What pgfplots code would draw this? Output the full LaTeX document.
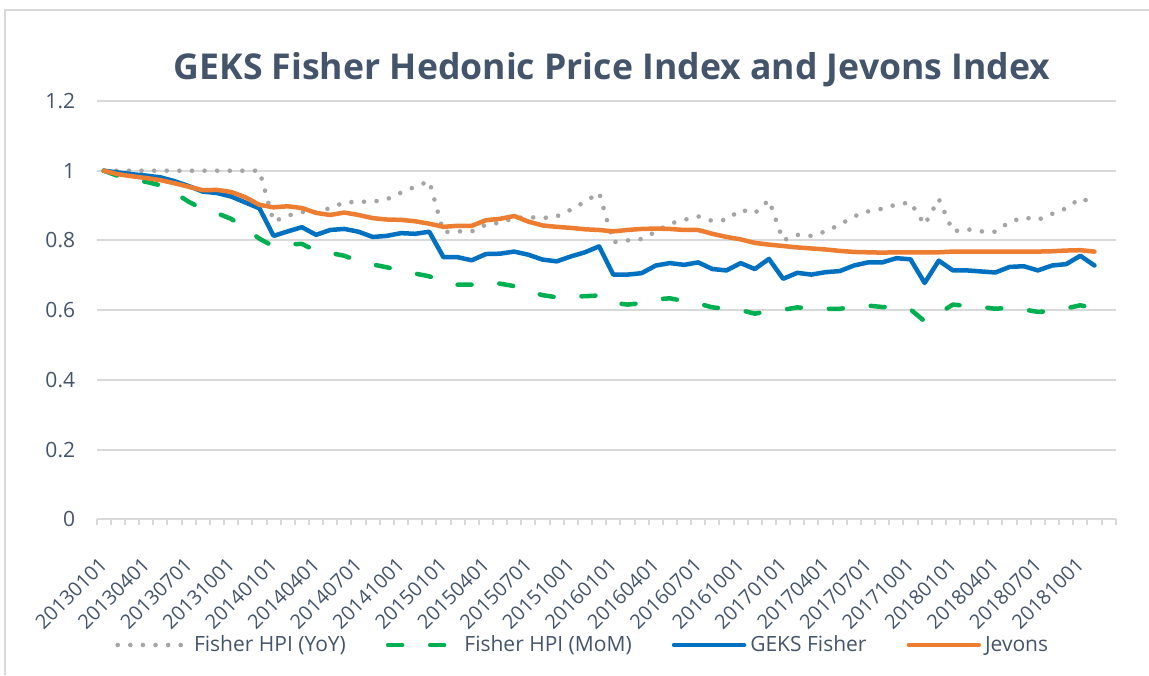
\documentclass[border=0pt]{standalone}
\usepackage{pgfplots}
\pgfplotsset{compat=1.18}
\usepackage{pgfplotstable}
\usepackage{fontspec}
\setmainfont{Open Sans}
\definecolor{txt}{HTML}{44546A}
\definecolor{gridc}{HTML}{D9D9D9}
\definecolor{yoyc}{HTML}{A5A5A5}
\definecolor{momc}{HTML}{00B050}
\definecolor{geksc}{HTML}{0070C0}
\definecolor{jevc}{HTML}{ED7D31}

\pgfplotstableread{
x yoy mom geks jev
0 1.000 1.000 1.000 1.000
1 1.000 0.985 0.995 0.990
2 1.000 0.975 0.990 0.984
3 1.000 0.968 0.986 0.979
4 1.000 0.958 0.981 0.973
5 1.000 0.937 0.970 0.964
6 1.000 0.911 0.956 0.954
7 1.000 0.890 0.940 0.944
8 1.000 0.878 0.936 0.945
9 1.000 0.862 0.926 0.939
10 1.000 0.835 0.909 0.924
11 1.000 0.805 0.892 0.902
12 0.854 0.783 0.813 0.895
13 0.871 0.789 0.826 0.898
14 0.882 0.790 0.838 0.893
15 0.880 0.770 0.816 0.879
16 0.893 0.764 0.830 0.873
17 0.909 0.756 0.833 0.880
18 0.911 0.740 0.825 0.873
19 0.911 0.731 0.810 0.864
20 0.918 0.723 0.813 0.860
21 0.937 0.713 0.821 0.859
22 0.954 0.705 0.819 0.855
23 0.970 0.697 0.825 0.848
24 0.824 0.682 0.752 0.839
25 0.826 0.673 0.752 0.842
26 0.826 0.673 0.743 0.842
27 0.845 0.680 0.761 0.858
28 0.851 0.676 0.762 0.862
29 0.864 0.669 0.768 0.870
30 0.867 0.655 0.759 0.854
31 0.864 0.643 0.745 0.843
32 0.869 0.637 0.740 0.839
33 0.888 0.639 0.754 0.836
34 0.911 0.640 0.766 0.832
35 0.937 0.642 0.783 0.830
36 0.795 0.621 0.702 0.826
37 0.800 0.616 0.702 0.830
38 0.804 0.620 0.706 0.833
39 0.825 0.631 0.728 0.834
40 0.848 0.634 0.735 0.833
41 0.859 0.626 0.730 0.830
42 0.869 0.619 0.737 0.830
43 0.856 0.608 0.718 0.819
44 0.859 0.604 0.714 0.810
45 0.888 0.600 0.735 0.803
46 0.878 0.590 0.718 0.793
47 0.916 0.597 0.747 0.788
48 0.800 0.601 0.690 0.784
49 0.816 0.608 0.707 0.780
50 0.813 0.604 0.702 0.777
51 0.826 0.604 0.709 0.774
52 0.845 0.604 0.712 0.770
53 0.869 0.609 0.728 0.767
54 0.883 0.613 0.737 0.766
55 0.891 0.609 0.737 0.765
56 0.903 0.609 0.749 0.766
57 0.909 0.602 0.746 0.766
58 0.845 0.568 0.678 0.766
59 0.919 0.591 0.742 0.766
60 0.826 0.616 0.714 0.768
61 0.832 0.612 0.714 0.768
62 0.826 0.609 0.711 0.768
63 0.825 0.604 0.708 0.768
64 0.853 0.607 0.724 0.768
65 0.866 0.602 0.726 0.768
66 0.859 0.595 0.714 0.768
67 0.876 0.597 0.728 0.769
68 0.892 0.605 0.732 0.771
69 0.921 0.614 0.756 0.772
70 0.907 0.605 0.728 0.768
}\datatable

\begin{document}
\begin{tikzpicture}
\useasboundingbox (0,0) rectangle (574.5pt,337.5pt);
\draw[gridc, line width=1pt] (2.5pt,0) -- (2.5pt,332.5pt) -- (574.5pt,332.5pt);
\node[font=\fontsize{17.8}{20}\selectfont\bfseries, text=txt] at (306pt,302.5pt) {GEKS Fisher Hedonic Price Index and Jevons Index};
\begin{axis}[
  at={(48.35pt,77.85pt)}, anchor=south west,
  scale only axis, width=509.5pt, height=209.15pt,
  xmin=-0.5, xmax=71.5, ymin=0, ymax=1.2,
  axis x line*=bottom, axis y line*=left,
  x axis line style={gridc, line width=1pt, -},
  y axis line style={draw=none},
  ytick={0,0.2,0.4,0.6,0.8,1,1.2},
  yticklabels={0,0.2,0.4,0.6,0.8,1,1.2},
  ymajorgrids, grid style={gridc, line width=1pt},
  major y tick style={draw=none},
  xtick={0,3,...,69},
  xticklabels={20130101,20130401,20130701,20131001,20140101,20140401,20140701,20141001,20150101,20150401,20150701,20151001,20160101,20160401,20160701,20161001,20170101,20170401,20170701,20171001,20180101,20180401,20180701,20181001},
  minor xtick={-0.5,0.5,...,71.5},
  major x tick style={draw=none},
  minor x tick style={gridc, line width=1pt},
  minor tick length=3pt, tick align=outside,
  yticklabel style={font=\fontsize{10.5}{12}\selectfont, text=txt, anchor=east, xshift=-3pt},
  xticklabel style={font=\fontsize{10}{12}\selectfont, text=txt, inner sep=0pt, yshift=-16.5pt, xshift=0pt, rotate=45, anchor=east},
  /pgf/number format/assume math mode=true,
  legend columns=4,
  legend cell align=left,
  legend style={at={(0.478,-0.3005)}, anchor=center, draw=none, fill=none,
    font=\fontsize{10.5}{12}\selectfont, text=txt,
    /tikz/every even column/.append style={column sep=18pt}},
  legend image code/.code={\draw[#1] (0pt,0pt) -- (35pt,0pt);},
]
\addplot[yoyc, line width=2.3pt, line cap=round, dash pattern=on 0pt off 6.3pt] table[x=x,y=yoy]{\datatable};
\addlegendentry{Fisher HPI (YoY)}
\addplot[momc, line width=2.25pt, line cap=round, line join=round, dash pattern=on 7pt off 14pt] table[x=x,y=mom]{\datatable};
\addlegendentry{Fisher HPI (MoM)}
\addplot[geksc, line width=2.25pt, line cap=round, line join=round] table[x=x,y=geks]{\datatable};
\addlegendentry{GEKS Fisher}
\addplot[jevc, line width=2.25pt, line cap=round, line join=round] table[x=x,y=jev]{\datatable};
\addlegendentry{Jevons}
\end{axis}
\end{tikzpicture}
\end{document}
